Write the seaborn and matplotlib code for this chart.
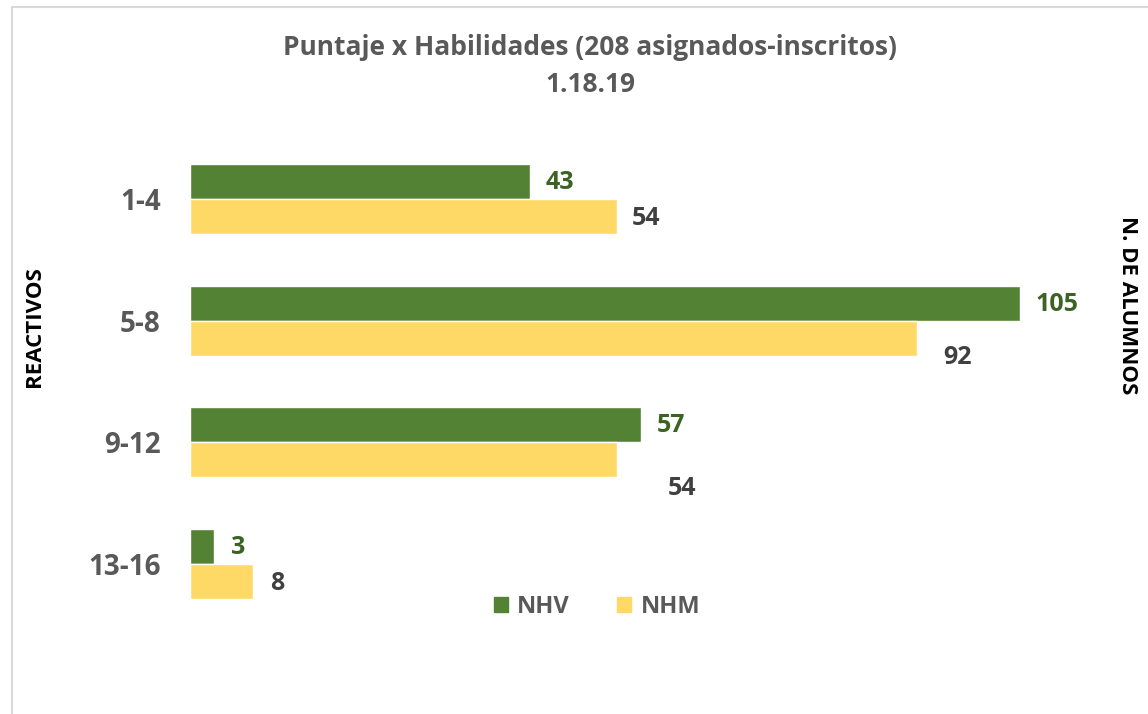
import seaborn as sns
import matplotlib.pyplot as plt
import pandas as pd
from matplotlib.patches import Rectangle

categories = ['1-4', '5-8', '9-12', '13-16']
nhv = [43, 105, 57, 3]
nhm = [54, 92, 54, 8]
series = ['NHV', 'NHM']

title = 'Puntaje x Habilidades (208 asignados-inscritos)\n1.18.19'

df = pd.DataFrame({
    'cat': categories * 2,
    'serie': ['NHV'] * len(nhv) + ['NHM'] * len(nhm),
    'val': nhv + nhm,
})

sns.set_theme(style='white')
plt.rcParams['font.family'] = ['Open Sans', 'DejaVu Sans']
plt.rcParams['font.weight'] = 'bold'

colors = {'NHV': '#548235', 'NHM': '#FFD966'}
label_colors = {'NHV': '#3B6324', 'NHM': '#404040'}
gray = '#595959'

fig = plt.figure(figsize=(11.48, 7.14), dpi=100)
ax = fig.add_axes([190 / 1148, 1 - 673.5 / 714, 909 / 1148, 559.7 / 714])

sns.barplot(data=df, y='cat', x='val', hue='serie', orient='h',
            palette=colors, width=0.575, gap=0, ax=ax, legend=False,
            saturation=1)

ax.set_xlim(0, 115)
ax.set_ylim(3.9, -0.7)
ax.set_xticks([])
ax.set_xlabel('')
ax.set_ylabel('')
for s in ax.spines.values():
    s.set_visible(False)
ax.tick_params(axis='y', length=0, pad=21, labelsize=20, labelcolor=gray)
for t in ax.get_yticklabels():
    t.set_fontweight('bold')

# label offsets (px) for the value labels
offsets = {
    'NHV': [(16, 1), (16, 1), (16, 1), (17, 1)],
    'NHM': [(15, 2), (26, 19), (51, 29), (17, 2)],
}
for cont, name in zip(ax.containers, series):
    for bar, (dx, dy) in zip(cont, offsets[name]):
        w = bar.get_width()
        yc = bar.get_y() + bar.get_height() / 2
        ax.annotate(f'{w:.0f}', xy=(w, yc), xytext=(dx * 0.72, -dy * 0.72),
                    textcoords='offset points', ha='left', va='center',
                    fontsize=18, fontweight='bold', color=label_colors[name])

fig.text(590 / 1148, 1 - 66 / 714, title, ha='center', va='center',
         fontsize=19, fontweight='bold', color=gray, linespacing=1.45)

fig.text(35 / 1148, 1 - 327 / 714, 'REACTIVOS', rotation=90, ha='center',
         va='center', fontsize=16, fontweight='bold', color='black')
fig.text(1128 / 1148, 1 - 305 / 714, 'N. DE ALUMNOS', rotation=-90,
         ha='center', va='center', fontsize=16, fontweight='bold',
         color='black')

handles = [Rectangle((0, 0), 1, 1, color=colors[s]) for s in series]
leg = fig.legend(handles, series, loc='center', ncol=2,
                 bbox_to_anchor=(597 / 1148, 1 - 607 / 714), frameon=False,
                 handlelength=0.6, handleheight=0.6, handletextpad=0.4,
                 columnspacing=2.0, prop={'size': 17, 'weight': 'bold'})
for t in leg.get_texts():
    t.set_color(gray)

fig.patches.append(Rectangle((12 / 1148, -0.1), 1.2, 1.1 - 7 / 714,
                             transform=fig.transFigure, fill=False,
                             edgecolor='#d9d9d9', linewidth=1.5))

fig.savefig('out.png', dpi=100)
